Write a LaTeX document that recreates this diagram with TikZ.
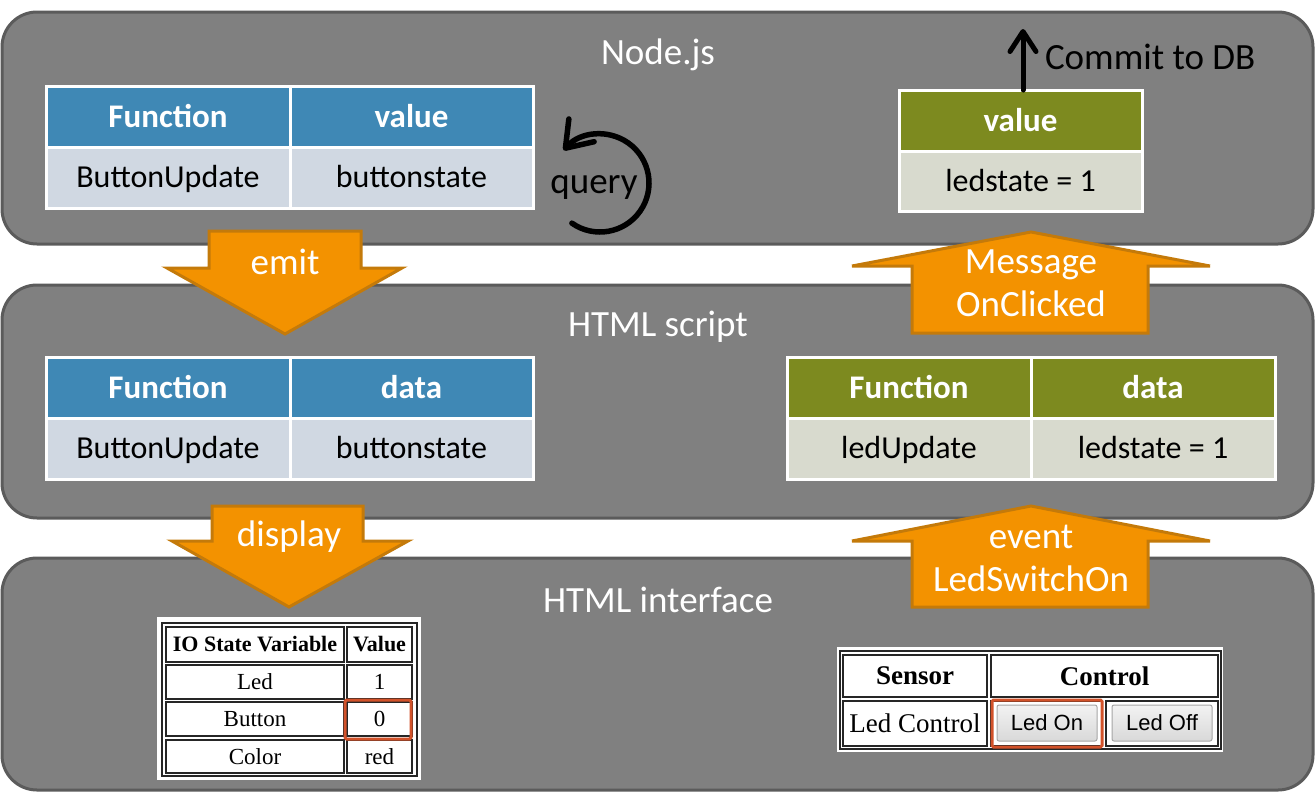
\documentclass[tikz,border=0pt]{standalone}
\usepackage{fontspec}
\setmainfont{Carlito}
\newfontfamily\serifb{Liberation Serif}
\newfontfamily\arialb{Liberation Sans}
\usetikzlibrary{arrows.meta}
\definecolor{layerfill}{HTML}{808080}
\definecolor{layerborder}{HTML}{5B5B5B}
\definecolor{bluehead}{HTML}{3F88B5}
\definecolor{bluebody}{HTML}{D0D8E2}
\definecolor{olivehead}{HTML}{7D8A1F}
\definecolor{olivebody}{HTML}{D8DACE}
\definecolor{orangefill}{HTML}{F39200}
\definecolor{orangeborder}{HTML}{C47A0A}
\definecolor{hilite}{HTML}{D2522A}
\definecolor{btnborder}{HTML}{A6A6A6}
\newcommand\cbox[7]{\node[#6, minimum width={#4pt-#2pt}, minimum height={#5pt-#3pt}] (#1) at ({(#2+#4)/2},{(#3+#5)/2}) {#7};}
\begin{document}
\begin{tikzpicture}[x=1pt,y=-1pt,
  every node/.style={inner sep=0pt, outer sep=0pt},
  layer/.style={draw=layerborder, fill=layerfill, line width=3pt, rounded corners=35pt},
  title/.style={text=white, font=\fontsize{37}{44}\selectfont},
  hcell/.style={draw=white, line width=3pt, text=white, font=\fontsize{33}{40}\selectfont\bfseries, text height=21pt, text depth=0pt},
  bcell/.style={draw=white, line width=3pt, text=black, font=\fontsize{32}{40}\selectfont, text height=20.5pt, text depth=0pt},
  blockarrow/.style={fill=orangefill, draw=orangeborder, line width=3pt, line join=miter},
  arrowtext/.style={text=white, font=\fontsize{37}{43}\selectfont, align=center},
  blacktext/.style={text=black, font=\fontsize{37}{44}\selectfont},
  thickarrow/.style={line width=5pt, line cap=round, -{Straight Barb[width=26pt,length=20pt,line cap=round,line join=round]}},
  looparrow/.style={line width=5.5pt, line cap=round, -{Straight Barb[width=34pt,length=24pt,line cap=round,line join=round]}},
  tcell/.style={draw=black!85, line width=1.6pt, fill=white, text=black, font=\serifb\fontsize{23}{26}\selectfont},
  tcellb/.style={tcell, font=\serifb\bfseries\fontsize{22}{26}\selectfont},
  scell/.style={tcell, font=\serifb\fontsize{27}{32}\selectfont},
  scellb/.style={tcell, font=\serifb\bfseries\fontsize{27}{32}\selectfont},
  frame/.style={draw=black!85, line width=1.6pt},
  hilitebox/.style={draw=hilite, line width=3pt, rounded corners=1.5pt},
  btn/.style={draw=btnborder, line width=1pt, rounded corners=2pt, top color=white!95!black, bottom color=white!85!black, text=black, font=\arialb\fontsize{22}{26}\selectfont}
]
\useasboundingbox (0,0) rectangle (1315,793);
\fill[white] (0,0) rectangle (1315,793);

% layers
\cbox{nodejs}{2}{12}{1313}{244}{layer}{}
\cbox{script}{2}{285}{1313}{518}{layer}{}
\cbox{iface}{2}{558}{1313}{790}{layer}{}

\node[title] (t1) at (658,55) {Node.js};
\node[title] (t2) at (658,327) {HTML script};
\node[title] (t3) at (658,600) {HTML interface};

% Node.js left table
\cbox{n1h1}{46}{86}{290}{147}{hcell, fill=bluehead}{Function}
\cbox{n1h2}{290}{86}{533}{147}{hcell, fill=bluehead}{value}
\cbox{n1b1}{46}{147}{290}{208}{bcell, fill=bluebody}{ButtonUpdate}
\cbox{n1b2}{290}{147}{533}{208}{bcell, fill=bluebody}{buttonstate}

% query loop
\node[blacktext] (query) at (594,187) {query};
\coordinate (qc) at (600,183);
\draw[looparrow] (qc) ++(-125:49pt) arc[start angle=-125, end angle=138, radius=49pt];

% Node.js right table
\cbox{vhead}{899}{90}{1142}{151}{hcell, fill=olivehead}{value}
\cbox{vbody}{899}{151}{1142}{211}{bcell, fill=olivebody}{ledstate = 1}
\coordinate (db) at (1023,29);
\draw[thickarrow] ([xshift=2.5pt]vhead.north) -- (db);
\node[blacktext, anchor=west] (commit) at (1045,57) {Commit to DB};

% HTML script left table
\cbox{s1h1}{46}{357}{290}{418}{hcell, fill=bluehead}{Function}
\cbox{s1h2}{290}{357}{533}{418}{hcell, fill=bluehead}{data}
\cbox{s1b1}{46}{418}{290}{479}{bcell, fill=bluebody}{ButtonUpdate}
\cbox{s1b2}{290}{418}{533}{479}{bcell, fill=bluebody}{buttonstate}

% HTML script right table
\cbox{s2h1}{787}{357}{1031}{418}{hcell, fill=olivehead}{Function}
\cbox{s2h2}{1031}{357}{1275}{418}{hcell, fill=olivehead}{data}
\cbox{s2b1}{787}{418}{1031}{479}{bcell, fill=olivebody}{ledUpdate}
\cbox{s2b2}{1031}{418}{1275}{479}{bcell, fill=olivebody}{ledstate = 1}

% block arrows
\draw[blockarrow] (209,231) -- (361,231) -- (361,268) -- (402,268) -- (285,334) -- (167,268) -- (209,268) -- cycle;
\node[arrowtext] (emit) at (285,262) {emit};

\draw[blockarrow] (912,333) -- (912,266) -- (852,266) -- (1031,232) -- (1210,266) -- (1148,266) -- (1148,333) -- cycle;
\node[arrowtext] (msg) at (1031,283) {Message\\OnClicked};

\draw[blockarrow] (212,506) -- (363,506) -- (363,541) -- (408,541) -- (289,607) -- (172,541) -- (212,541) -- cycle;
\node[arrowtext] (display) at (289,537) {display};

\draw[blockarrow] (912,607) -- (912,541) -- (852,541) -- (1031,506) -- (1210,541) -- (1148,541) -- (1148,607) -- cycle;
\node[arrowtext] (event) at (1031,558) {event\\LedSwitchOn};

% interface left table
\cbox{iobg}{157}{617}{421}{780}{fill=white}{}
\draw[frame] (162,623) rectangle (417,776);
\cbox{io11}{166}{627}{344}{662}{tcellb}{IO State Variable}
\cbox{io12}{347}{627}{412}{662}{tcellb}{Value}
\cbox{io21}{166}{665}{344}{699}{tcell}{Led}
\cbox{io22}{347}{665}{412}{699}{tcell}{1}
\cbox{io31}{166}{702}{344}{736}{tcell}{Button}
\cbox{io32}{347}{702}{412}{736}{tcell}{0}
\cbox{io41}{166}{740}{344}{773}{tcell}{Color}
\cbox{io42}{347}{740}{412}{773}{tcell}{red}
\cbox{iohl}{345}{700}{411}{739}{hilitebox}{}

% interface right table
\cbox{ctbg}{837}{647}{1223}{752}{fill=white}{}
\draw[frame] (840,651) rectangle (1221,749);
\cbox{c11}{843}{655}{987}{697}{scellb}{Sensor}
\cbox{c12}{991}{655}{1218}{697}{scellb}{Control}
\cbox{c21}{843}{701}{987}{746}{scell}{Led Control}
\cbox{c22}{991}{701}{1102}{746}{tcell}{}
\cbox{c23}{1106}{701}{1218}{746}{tcell}{}
\cbox{ledon}{997}{705}{1097}{741}{btn}{Led On}
\cbox{ledoff}{1112}{705}{1212}{741}{btn}{Led Off}
\cbox{onhl}{992}{700}{1102}{747}{hilitebox}{}
\end{tikzpicture}
\end{document}
